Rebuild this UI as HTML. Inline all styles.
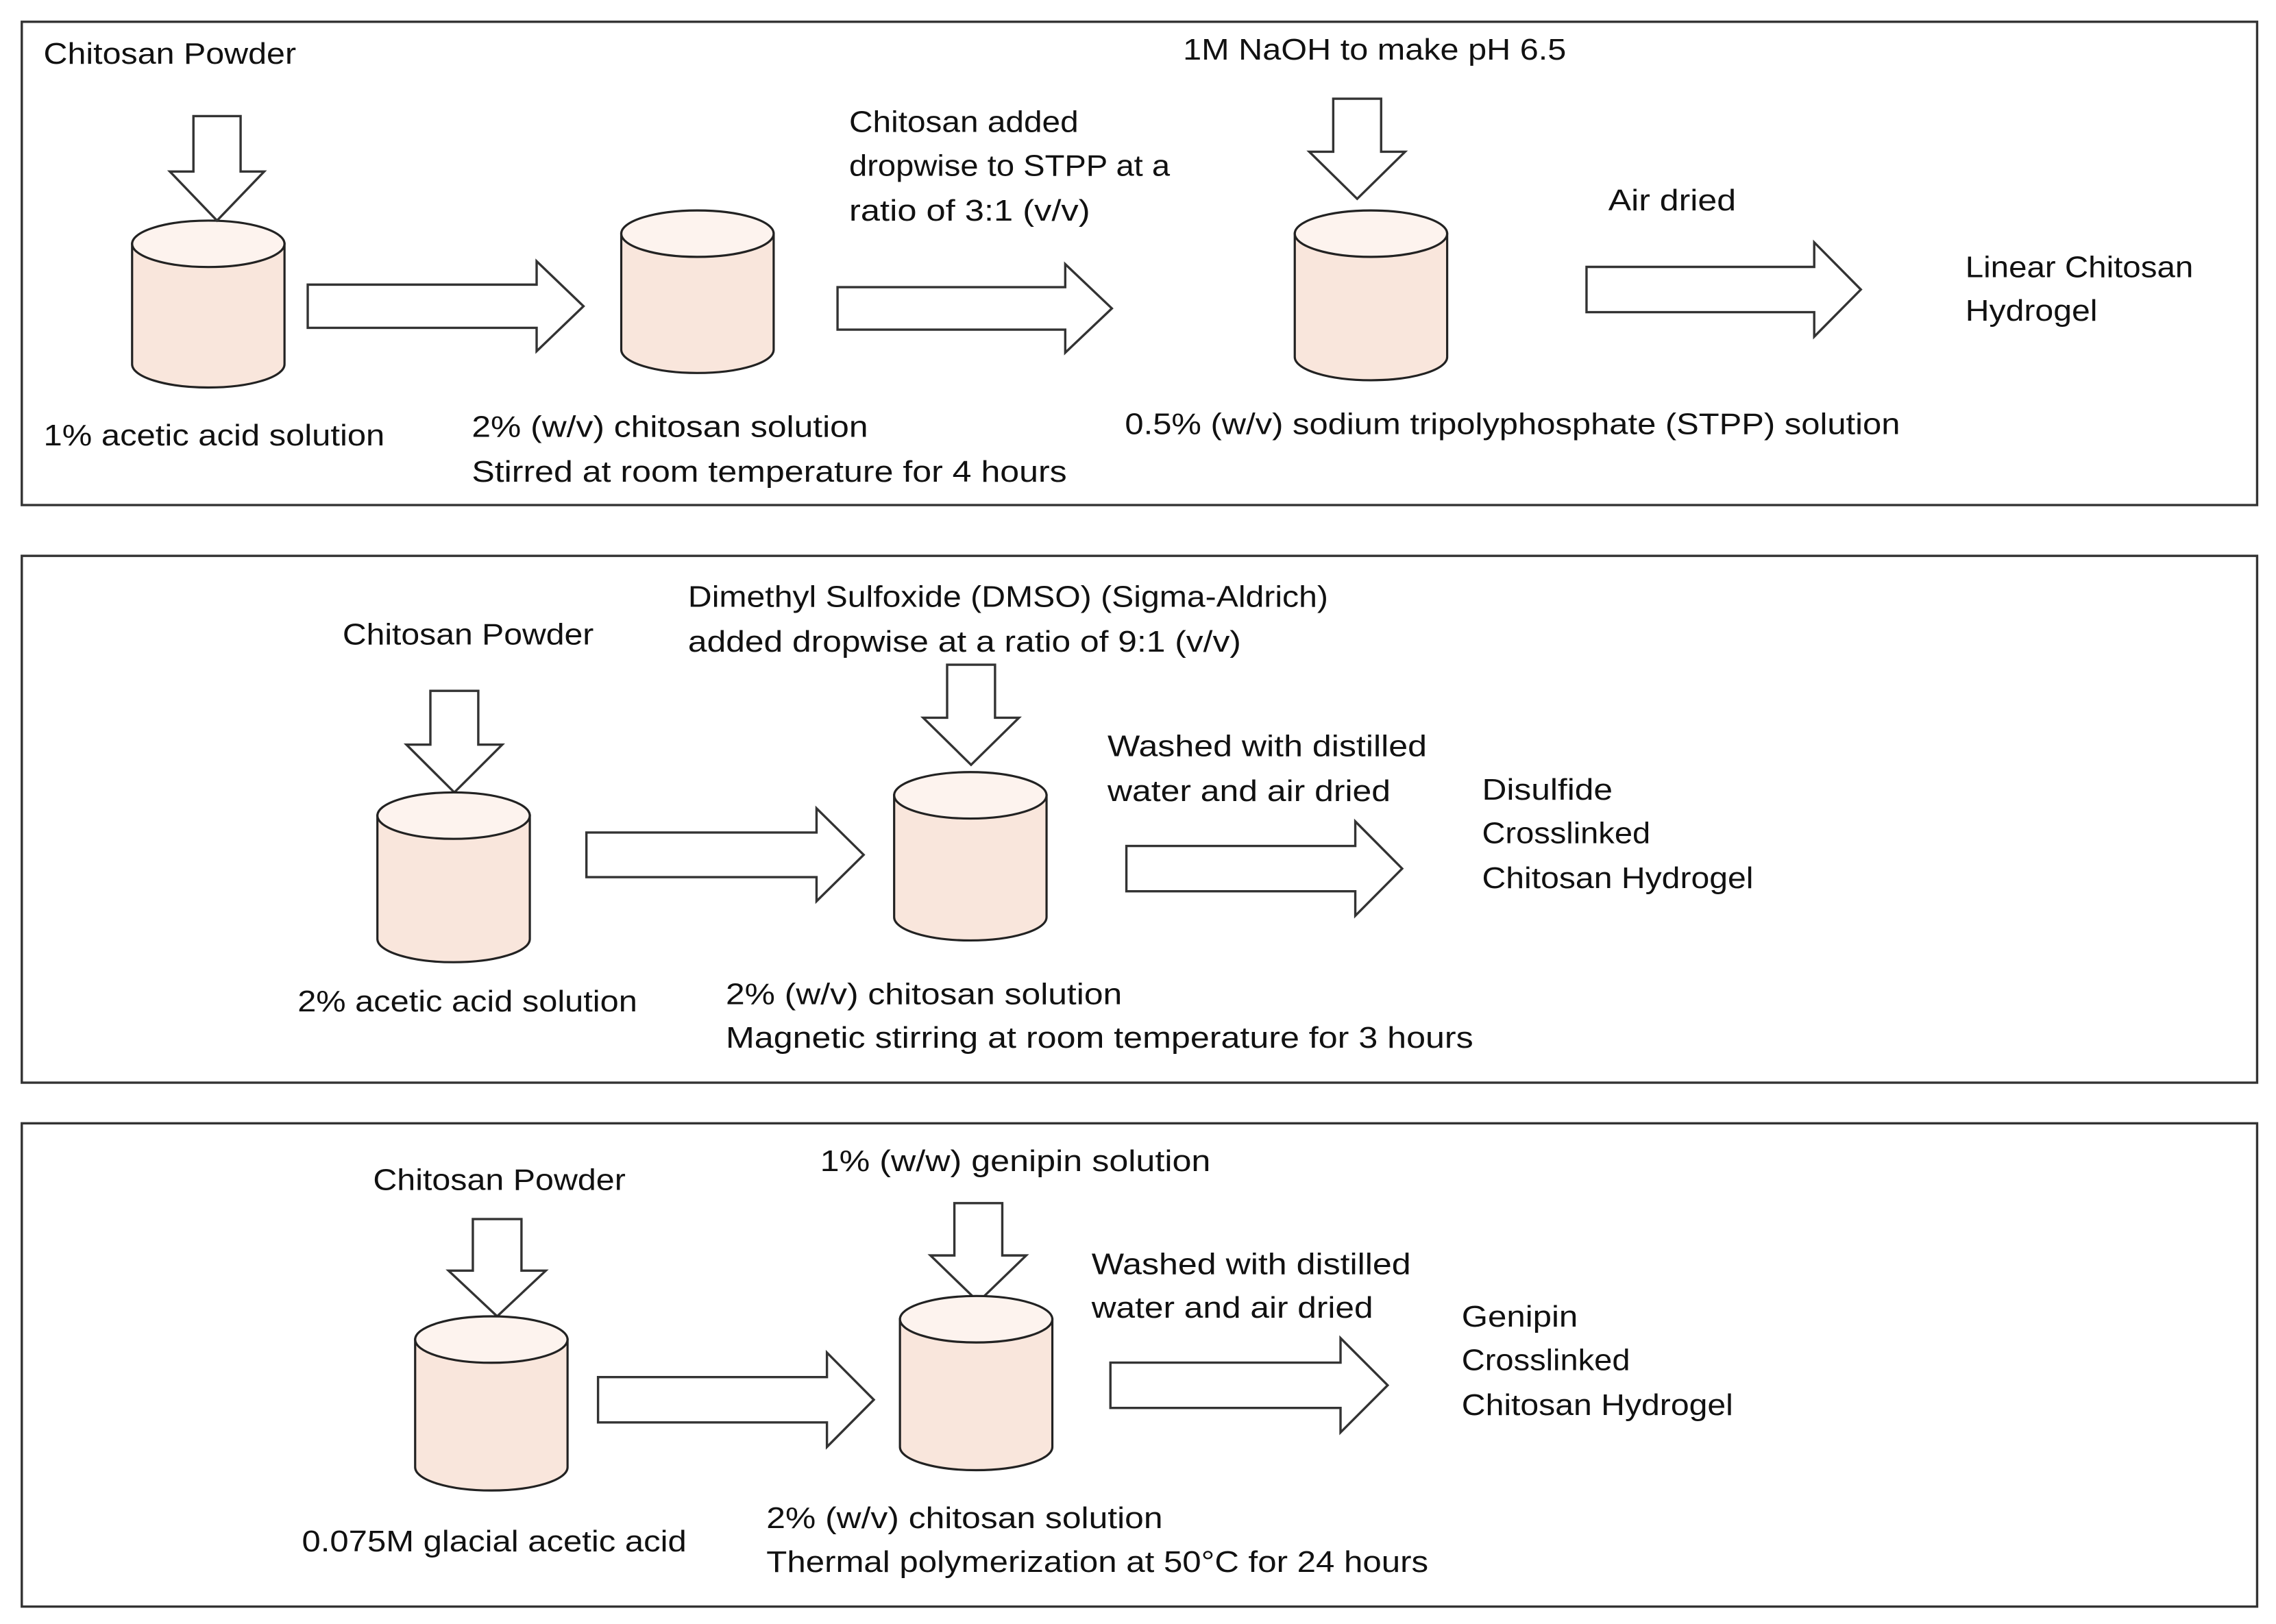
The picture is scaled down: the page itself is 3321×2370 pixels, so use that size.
<!DOCTYPE html>
<html><head><meta charset="utf-8"><style>
html,body{margin:0;padding:0;background:#fff;}
svg{display:block;}
text{font-family:"Liberation Sans",sans-serif;font-size:20.5px;fill:#111;}
</style></head><body>
<svg id="s" width="3321" height="2370" viewBox="0 0 1568 1119" xmlns="http://www.w3.org/2000/svg">
<rect x="0" y="0" width="1568" height="1119" fill="#fff"/>
<g fill="none" stroke="#333" stroke-width="1.6">
<rect x="15" y="15" width="1540" height="333"/>
<rect x="15" y="383" width="1540" height="363"/>
<rect x="15" y="774" width="1540" height="333"/>
</g>
<g id="shapes"></g>
<g>
<text x="30" y="44" textLength="174" lengthAdjust="spacingAndGlyphs">Chitosan Powder</text>
<text x="30" y="307" textLength="235" lengthAdjust="spacingAndGlyphs">1% acetic acid solution</text>
<text x="325" y="301" textLength="273" lengthAdjust="spacingAndGlyphs">2% (w/v) chitosan solution</text>
<text x="325" y="332" textLength="410" lengthAdjust="spacingAndGlyphs">Stirred at room temperature for 4 hours</text>
<text x="585" y="91" textLength="158" lengthAdjust="spacingAndGlyphs">Chitosan added</text>
<text x="585" y="121" textLength="221" lengthAdjust="spacingAndGlyphs">dropwise to STPP at a</text>
<text x="585" y="152" textLength="166" lengthAdjust="spacingAndGlyphs">ratio of 3:1 (v/v)</text>
<text x="815" y="41" textLength="264" lengthAdjust="spacingAndGlyphs">1M NaOH to make pH 6.5</text>
<text x="775" y="299" textLength="534" lengthAdjust="spacingAndGlyphs">0.5% (w/v) sodium tripolyphosphate (STPP) solution</text>
<text x="1108" y="145" textLength="88" lengthAdjust="spacingAndGlyphs">Air dried</text>
<text x="1354" y="191" textLength="157" lengthAdjust="spacingAndGlyphs">Linear Chitosan</text>
<text x="1354" y="221" textLength="91" lengthAdjust="spacingAndGlyphs">Hydrogel</text>

<text x="236" y="444" textLength="173" lengthAdjust="spacingAndGlyphs">Chitosan Powder</text>
<text x="205" y="697" textLength="234" lengthAdjust="spacingAndGlyphs">2% acetic acid solution</text>
<text x="474" y="418" textLength="441" lengthAdjust="spacingAndGlyphs">Dimethyl Sulfoxide (DMSO) (Sigma-Aldrich)</text>
<text x="474" y="449" textLength="381" lengthAdjust="spacingAndGlyphs">added dropwise at a ratio of 9:1 (v/v)</text>
<text x="500" y="692" textLength="273" lengthAdjust="spacingAndGlyphs">2% (w/v) chitosan solution</text>
<text x="500" y="722" textLength="515" lengthAdjust="spacingAndGlyphs">Magnetic stirring at room temperature for 3 hours</text>
<text x="763" y="521" textLength="220" lengthAdjust="spacingAndGlyphs">Washed with distilled</text>
<text x="763" y="552" textLength="195" lengthAdjust="spacingAndGlyphs">water and air dried</text>
<text x="1021" y="551" textLength="90" lengthAdjust="spacingAndGlyphs">Disulfide</text>
<text x="1021" y="581" textLength="116" lengthAdjust="spacingAndGlyphs">Crosslinked</text>
<text x="1021" y="612" textLength="187" lengthAdjust="spacingAndGlyphs">Chitosan Hydrogel</text>

<text x="257" y="820" textLength="174" lengthAdjust="spacingAndGlyphs">Chitosan Powder</text>
<text x="208" y="1069" textLength="265" lengthAdjust="spacingAndGlyphs">0.075M glacial acetic acid</text>
<text x="565" y="807" textLength="269" lengthAdjust="spacingAndGlyphs">1% (w/w) genipin solution</text>
<text x="528" y="1053" textLength="273" lengthAdjust="spacingAndGlyphs">2% (w/v) chitosan solution</text>
<text x="528" y="1083" textLength="456" lengthAdjust="spacingAndGlyphs">Thermal polymerization at 50°C for 24 hours</text>
<text x="752" y="878" textLength="220" lengthAdjust="spacingAndGlyphs">Washed with distilled</text>
<text x="752" y="908" textLength="194" lengthAdjust="spacingAndGlyphs">water and air dried</text>
<text x="1007" y="914" textLength="80" lengthAdjust="spacingAndGlyphs">Genipin</text>
<text x="1007" y="944" textLength="116" lengthAdjust="spacingAndGlyphs">Crosslinked</text>
<text x="1007" y="975" textLength="187" lengthAdjust="spacingAndGlyphs">Chitosan Hydrogel</text>
</g>
</svg>
<script>
var g=document.getElementById('shapes'),h='';
function cyl(x1,y1,x2,y2){var cx=(x1+x2)/2,rx=(x2-x1)/2,ry=16;
h+='<path d="M'+x1+' '+(y1+ry)+' L'+x1+' '+(y2-ry)+' A'+rx+' '+ry+' 0 0 0 '+x2+' '+(y2-ry)+' L'+x2+' '+(y1+ry)+' Z" fill="#f9e6dc" stroke="#222" stroke-width="1.5"/>';
h+='<ellipse cx="'+cx+'" cy="'+(y1+ry)+'" rx="'+rx+'" ry="'+ry+'" fill="#fdf3ee" stroke="#222" stroke-width="1.5"/>';}
function ra(x1,y1,x2,y2){var H=y2-y1,i=H*0.26,hx=x2-(x2-x1)*0.17,my=(y1+y2)/2;
h+='<polygon points="'+[x1,y1+i,hx,y1+i,hx,y1,x2,my,hx,y2,hx,y2-i,x1,y2-i,x1,y1+i].join(' ')+'" fill="#fff" stroke="#333" stroke-width="1.6"/>';}
function da(x1,y1,x2,y2){var W=x2-x1,i=W*0.25,hy=y1+(y2-y1)*0.53,mx=(x1+x2)/2;
h+='<polygon points="'+[x1+i,y1,x2-i,y1,x2-i,hy,x2,hy,mx,y2,x1,hy,x1+i,hy,x1+i,y1].join(' ')+'" fill="#fff" stroke="#333" stroke-width="1.6"/>';}
cyl(91,152,196,267);da(117,80,182,152);ra(212,180,402,242);
cyl(428,145,533,257);ra(577,182,766,243);
da(902,68,968,137);cyl(892,145,997,262);ra(1093,167,1282,232);
da(280,476,346,546);cyl(260,546,365,663);ra(404,557,595,621);
da(636,458,702,527);cyl(616,532,721,648);ra(776,566,966,631);
da(309,840,376,907);cyl(286,907,391,1027);ra(412,932,602,997);
da(641,829,707,897);cyl(620,893,725,1013);ra(765,922,956,987);
g.innerHTML=h;
</script>
</body></html>
